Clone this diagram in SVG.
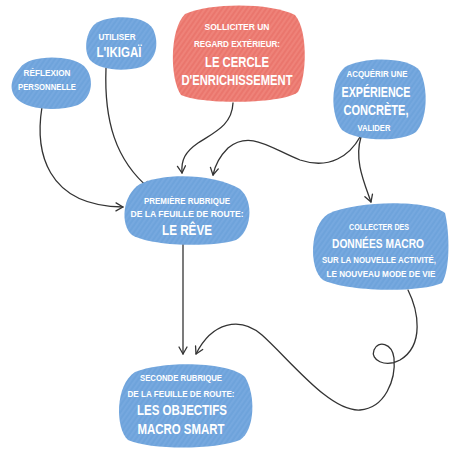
<svg xmlns="http://www.w3.org/2000/svg" width="450" height="450" viewBox="0 0 450 450">
<defs>
<pattern id="blueTex" patternUnits="userSpaceOnUse" width="4" height="4" patternTransform="rotate(-55)">
<rect width="4" height="4" fill="#6fa4dc"/>
<line x1="0" y1="1" x2="4" y2="1" stroke="#86b4e6" stroke-width="1" opacity="0.6"/>
<line x1="0" y1="3" x2="4" y2="3" stroke="#6299d4" stroke-width="0.6" opacity="0.4"/>
</pattern>
<pattern id="redTex" patternUnits="userSpaceOnUse" width="4" height="4" patternTransform="rotate(-55)">
<rect width="4" height="4" fill="#ec786e"/>
<line x1="0" y1="1" x2="4" y2="1" stroke="#f39990" stroke-width="1" opacity="0.6"/>
<line x1="0" y1="3" x2="4" y2="3" stroke="#e16a60" stroke-width="0.6" opacity="0.4"/>
</pattern>
<marker id="arr" markerWidth="10" markerHeight="10" refX="8" refY="5" orient="auto" markerUnits="userSpaceOnUse">
<path d="M1,1 L8,5 L1,9" fill="none" stroke="#333" stroke-width="1.3" stroke-linecap="round" stroke-linejoin="round"/>
</marker>
</defs>
<style>
.blue{fill:url(#blueTex);}
.red{fill:url(#redTex);}
text{font-family:"Liberation Sans","DejaVu Sans",sans-serif;fill:#ffffff;text-anchor:middle;font-weight:bold;}
.s{font-size:9.5px;}
.l{font-size:14.5px;}
.sd{font-size:8.5px;}
.ld{font-size:13px;}
.c{fill:none;stroke:#333;stroke-width:1.3;stroke-linecap:round;marker-end:url(#arr);}
</style>
<rect width="450" height="450" fill="#ffffff"/>
<g id="connectors">
<path class="c" d="M 42 107 C 35 150, 45 206, 123 207"/>
<path class="c" d="M 106 68 C 104 120, 115 160, 150 189"/>
<path class="c" d="M 233 103 C 232 125, 215 132, 198 143 C 185 152, 181 160, 182 173"/>
<path class="c" d="M 360 137 C 350 155, 330 170, 300 160 C 270 148, 250 130, 228 148 C 220 156, 215 165, 213 175"/>
<path class="c" d="M 361 137 C 354 160, 364 182, 371 202"/>
<path class="c" d="M 183 243 L 183 354"/>
<path class="c" d="M 408 290 C 418 310, 425 345, 400 360 C 385 368, 370 360, 374 350 C 378 340, 392 343, 394 358 C 396 380, 385 408, 360 410 C 330 412, 290 360, 262 335 C 240 316, 212 322, 196 354"/>
</g>
<g id="reflexion">
<path class="blue" d="M 20 68 C 28 55, 70 54, 84 66 C 95 77, 93 98, 78 105 C 58 112, 26 110, 16 98 C 8 88, 12 77, 20 68 Z"/>
<text class="s" x="47" y="76" textLength="47" lengthAdjust="spacingAndGlyphs">RÉFLEXION</text>
<text class="s" x="47" y="90" textLength="58" lengthAdjust="spacingAndGlyphs">PERSONNELLE</text>
</g>
<g id="ikigai">
<path class="blue" d="M 95 24 C 110 14, 145 15, 153 29 C 160 44, 156 61, 141 67 C 123 72, 99 70, 90 60 C 83 50, 86 32, 95 24 Z"/>
<text class="s" x="117" y="40" textLength="37" lengthAdjust="spacingAndGlyphs">UTILISER</text>
<text class="l" x="119" y="57" textLength="45" lengthAdjust="spacingAndGlyphs">L'IKIGAÏ</text>
</g>
<g id="cercle">
<path class="red" d="M 185 14 C 212 2, 272 3, 295 15 C 308 30, 307 76, 298 92 C 284 104, 202 105, 181 95 C 170 80, 169 30, 185 14 Z"/>
<text class="s" x="237" y="30" textLength="65" lengthAdjust="spacingAndGlyphs">SOLLICITER UN</text>
<text class="s" x="237" y="47" textLength="86" lengthAdjust="spacingAndGlyphs">REGARD EXTÉRIEUR:</text>
<text class="l" x="237" y="67" textLength="64" lengthAdjust="spacingAndGlyphs">LE CERCLE</text>
<text class="l" x="237" y="85" textLength="111" lengthAdjust="spacingAndGlyphs">D'ENRICHISSEMENT</text>
</g>
<g id="experience">
<path class="blue" d="M 345 67 C 365 56, 410 57, 420 71 C 429 90, 427 120, 416 132 C 401 143, 355 141, 342 130 C 330 115, 330 80, 345 67 Z"/>
<text class="s" x="377" y="77" textLength="61" lengthAdjust="spacingAndGlyphs">ACQUÉRIR UNE</text>
<text class="l" x="376" y="97" textLength="69" lengthAdjust="spacingAndGlyphs">EXPÉRIENCE</text>
<text class="l" x="376" y="115" textLength="65" lengthAdjust="spacingAndGlyphs">CONCRÈTE,</text>
<text class="s" x="374" y="131" textLength="33" lengthAdjust="spacingAndGlyphs">VALIDER</text>
</g>
<g id="reve">
<path class="blue" d="M 140 184 C 165 172, 215 174, 240 189 C 255 202, 251 232, 236 240 C 210 248, 150 246, 132 235 C 120 225, 122 195, 140 184 Z"/>
<text class="s" x="187" y="204" textLength="86" lengthAdjust="spacingAndGlyphs">PREMIÈRE RUBRIQUE</text>
<text class="s" x="187" y="217" textLength="113" lengthAdjust="spacingAndGlyphs">DE LA FEUILLE DE ROUTE:</text>
<text class="l" x="187" y="235" textLength="50" lengthAdjust="spacingAndGlyphs">LE RÊVE</text>
</g>
<g id="donnees">
<path class="blue" d="M 328 214 C 358 200, 428 200, 445 213 C 450 234, 450 270, 442 283 C 420 293, 348 292, 323 280 C 308 268, 310 225, 328 214 Z"/>
<text class="s" x="379" y="230" textLength="60" lengthAdjust="spacingAndGlyphs">COLLECTER DES</text>
<text class="ld" x="378" y="248" textLength="92" lengthAdjust="spacingAndGlyphs">DONNÉES MACRO</text>
<text class="sd" x="379" y="263" textLength="114" lengthAdjust="spacingAndGlyphs">SUR LA NOUVELLE ACTIVITÉ,</text>
<text class="sd" x="381" y="277" textLength="109" lengthAdjust="spacingAndGlyphs">LE NOUVEAU MODE DE VIE</text>
</g>
<g id="objectifs">
<path class="blue" d="M 135 372 C 165 360, 230 362, 245 377 C 256 395, 255 430, 240 440 C 215 450, 150 450, 128 440 C 115 428, 115 385, 135 372 Z"/>
<text class="s" x="181" y="381" textLength="82" lengthAdjust="spacingAndGlyphs">SECONDE RUBRIQUE</text>
<text class="s" x="181" y="397" textLength="107" lengthAdjust="spacingAndGlyphs">DE LA FEUILLE DE ROUTE:</text>
<text class="l" x="182" y="415" textLength="90" lengthAdjust="spacingAndGlyphs">LES OBJECTIFS</text>
<text class="l" x="181" y="434" textLength="87" lengthAdjust="spacingAndGlyphs">MACRO SMART</text>
</g>
</svg>
